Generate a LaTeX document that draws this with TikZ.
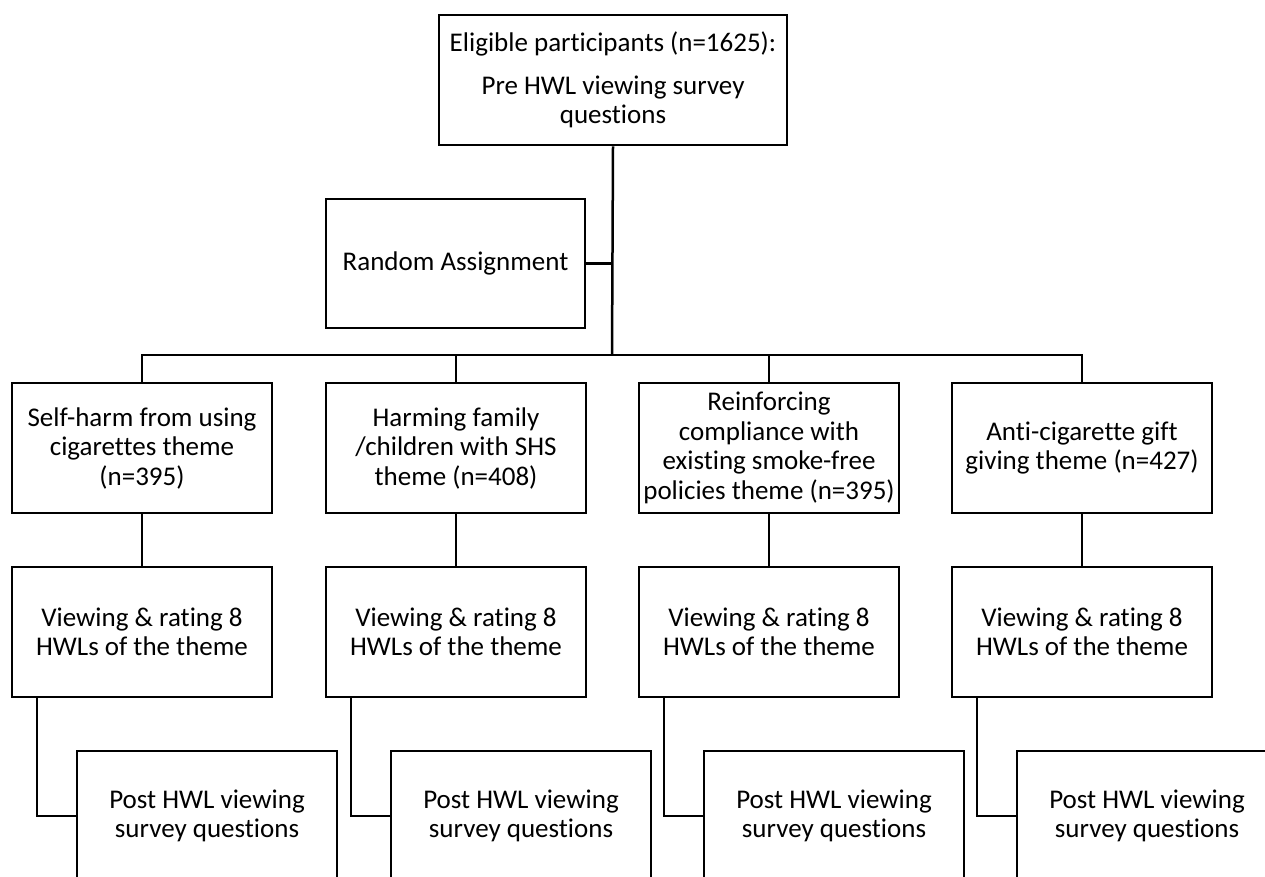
\documentclass[tikz,border=0pt]{standalone}
\usepackage{fontspec}
\setmainfont{Carlito}[Ligatures={NoCommon}]
\begin{document}
\begin{tikzpicture}[x=1pt,y=-1pt,
  box/.style={draw=black,line width=2.5pt,inner sep=0pt,minimum width=260pt,minimum height=130pt,align=center,font=\fontsize{27}{29.5}\selectfont},
  conn/.style={draw=black,line width=2.5pt}]
\useasboundingbox (0,0) rectangle (1265,876);
\clip (0,0) rectangle (1265,876);
\fill[white] (0,0) rectangle (1265,876);
\node[box,minimum width=348pt] (top) at (613,80) {Eligible participants (n=1625):\\[13pt]Pre HWL viewing survey\\questions};
\node[box,minimum width=259pt,minimum height=129pt] (ra) at (455.5,263.5) {Random Assignment};
\coordinate (hub) at (612,355);
% row 2
\node[box] (t1) at (142,448) {Self-harm from using\\cigarettes theme\\(n=395)};
\node[box] (t2) at (456,448) {Harming family\\/children with SHS\\theme (n=408)};
\node[box] (t3) at (769,448) {Reinforcing\\compliance with\\existing smoke-free\\policies theme (n=395)};
\node[box] (t4) at (1082,448) {Anti-cigarette gift\\giving theme (n=427)};
% row 3
\node[box] (v1) at (142,632) {Viewing \& rating 8\\HWLs of the theme};
\node[box] (v2) at (456,632) {Viewing \& rating 8\\HWLs of the theme};
\node[box] (v3) at (769,632) {Viewing \& rating 8\\HWLs of the theme};
\node[box] (v4) at (1082,632) {Viewing \& rating 8\\HWLs of the theme};
% row 4
\node[box] (p1) at (207,816) {Post HWL viewing\\survey questions};
\node[box] (p2) at (521,816) {Post HWL viewing\\survey questions};
\node[box] (p3) at (834,816) {Post HWL viewing\\survey questions};
\node[box] (p4) at (1147,816) {Post HWL viewing\\survey questions};
% connectors
\draw[conn] (top.south) -- (hub);
\draw[conn] (ra.east) -- (ra.east -| hub);
\draw[conn,line cap=rect] (t1.north |- hub) -- (t4.north |- hub);
\foreach \i in {1,2,3,4}{
  \draw[conn] (t\i.north |- hub) -- (t\i.north);
  \draw[conn] (t\i.south) -- (v\i.north);
  \draw[conn] ([xshift=26pt]v\i.south west) |- (p\i.west);
}
\end{tikzpicture}
\end{document}
